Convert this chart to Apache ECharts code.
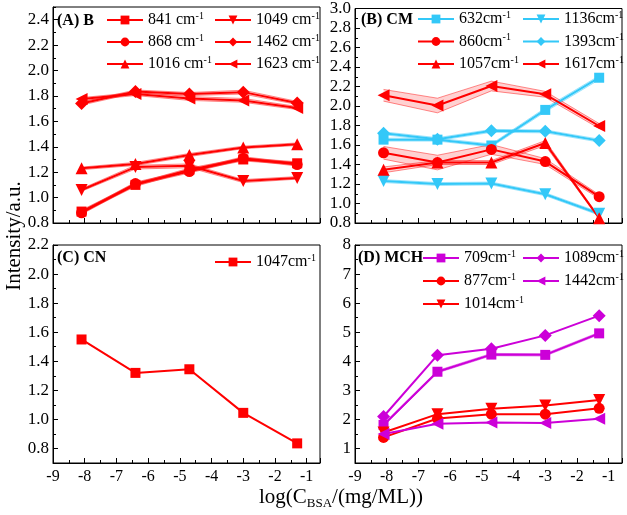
<!DOCTYPE html>
<html><head><meta charset="utf-8">
<script src="https://cdn.jsdelivr.net/npm/echarts@6/dist/echarts.min.js"></script>
<style>html,body{margin:0;padding:0;background:#fff}#c{width:627px;height:515px}</style>
</head><body><div id="c"></div>
<script>
// ---- data ----
const xVals = [-8.1, -6.4, -4.7, -3.0, -1.3];
const xTickLabels = [-9, -8, -7, -6, -5, -4, -3, -2, -1];

// Panel A (B)
const a841  = [0.89, 1.10, 1.22, 1.30, 1.27];
const a868  = [0.88, 1.11, 1.205, 1.31, 1.26];
const a1016 = [1.23, 1.265, 1.335, 1.395, 1.42];
const a1049 = [1.06, 1.24, 1.25, 1.13, 1.155];
const a1462 = [1.74, 1.835, 1.815, 1.83, 1.745];
const a1623 = [1.775, 1.815, 1.78, 1.765, 1.705];
const a841Err  = [0.012, 0.012, 0.012, 0.012, 0.012];
const a868Err  = [0.012, 0.012, 0.012, 0.012, 0.012];
const a1016Err = [0.01, 0.012, 0.012, 0.01, 0.01];
const a1049Err = [0.01, 0.015, 0.015, 0.012, 0.01];
const a1462Err = [0.012, 0.012, 0.012, 0.015, 0.012];
const a1623Err = [0.012, 0.012, 0.015, 0.015, 0.012];

// Panel B (CM)
const b632  = [1.655, 1.655, 1.595, 1.96, 2.29];
const b860  = [1.52, 1.42, 1.555, 1.43, 1.07];
const b1057 = [1.345, 1.42, 1.42, 1.62, 0.85];
const b1136 = [1.23, 1.20, 1.205, 1.095, 0.895];
const b1393 = [1.72, 1.66, 1.745, 1.74, 1.645];
const b1617 = [2.11, 2.005, 2.205, 2.12, 1.795];
const b632Err  = [0.015, 0.015, 0.015, 0.02, 0.02];
const b860Err  = [0.065, 0.075, 0.05, 0.03, 0.02];
const b1057Err = [0.03, 0.02, 0.02, 0.025, 0.01];
const b1136Err = [0.015, 0.015, 0.015, 0.015, 0.015];
const b1393Err = [0.015, 0.015, 0.015, 0.015, 0.015];
const b1617Err = [0.06, 0.075, 0.05, 0.03, 0.025];

// Panel C (CN)
const c1047 = [1.55, 1.32, 1.345, 1.045, 0.835];

// Panel D (MCH)
const d709  = [1.81, 3.64, 4.23, 4.22, 4.96];
const d877  = [1.38, 2.03, 2.18, 2.18, 2.38];
const d1014 = [1.55, 2.18, 2.37, 2.48, 2.67];
const d1089 = [2.10, 4.21, 4.43, 4.89, 5.57];
const d1442 = [1.50, 1.85, 1.89, 1.88, 2.02];
const d709Err  = [0.04, 0.04, 0.04, 0.04, 0.04];

// tick labels
const yTicksA = [0.8, 1.0, 1.2, 1.4, 1.6, 1.8, 2.0, 2.2, 2.4];
const yTicksB = [0.8, 1.0, 1.2, 1.4, 1.6, 1.8, 2.0, 2.2, 2.4, 2.6, 2.8, 3.0];
const yTicksC = [0.8, 1.0, 1.2, 1.4, 1.6, 1.8, 2.0, 2.2];
const yTicksD = [1, 2, 3, 4, 5, 6, 7, 8];

// ---- styles ----
const RED = '#FF0000', CYAN = '#33C8F8', MAG = '#CC00D8';
const FONT = 'Liberation Serif';
const grids = [
  {left: 53, top: 7, width: 267, height: 216},
  {left: 355, top: 7, width: 267, height: 216},
  {left: 53, top: 245, width: 267, height: 218},
  {left: 355, top: 245, width: 267, height: 218}
];

function xs(v) { return xVals.map((x, i) => [x, v[i]]); }

const SYM = {
  sq: {symbol: 'rect', symbolSize: 10, symbolRotate: 0},
  ci: {symbol: 'circle', symbolSize: 11, symbolRotate: 0},
  up: {symbol: 'triangle', symbolSize: 12, symbolRotate: 0},
  dn: {symbol: 'triangle', symbolSize: 12, symbolRotate: 180},
  di: {symbol: 'diamond', symbolSize: 13, symbolRotate: 0},
  lf: {symbol: 'triangle', symbolSize: 12, symbolRotate: 90}
};

function line(name, vals, color, sym, gi) {
  return Object.assign({
    type: 'line', name: name, xAxisIndex: gi, yAxisIndex: gi,
    data: xs(vals), z: 3,
    lineStyle: {color: color, width: 2},
    itemStyle: {color: color},
    showAllSymbol: true, animation: false
  }, SYM[sym]);
}

function rgba(hex, a) {
  const n = parseInt(hex.slice(1), 16);
  return 'rgba(' + ((n >> 16) & 255) + ',' + ((n >> 8) & 255) + ',' + (n & 255) + ',' + a + ')';
}

function band(vals, errs, color, gi) {
  return {
    type: 'custom', xAxisIndex: gi, yAxisIndex: gi, z: 1, silent: true, animation: false,
    data: xVals.map((x, i) => [x, vals[i] - errs[i], vals[i] + errs[i]]),
    encode: {x: 0, y: [1, 2]},
    renderItem: function (params, api) {
      if (params.dataIndex !== 0) return null;
      const hi = [], lo = [];
      for (let i = 0; i < xVals.length; i++) {
        hi.push(api.coord([xVals[i], vals[i] + errs[i]]));
        lo.push(api.coord([xVals[i], vals[i] - errs[i]]));
      }
      return {type: 'group', children: [
        {type: 'polygon', shape: {points: hi.concat(lo.slice().reverse())}, style: {fill: rgba(color, 0.18), stroke: null}},
        {type: 'polyline', shape: {points: hi}, style: {fill: null, stroke: rgba(color, 0.45), lineWidth: 1}},
        {type: 'polyline', shape: {points: lo}, style: {fill: null, stroke: rgba(color, 0.45), lineWidth: 1}}
      ]};
    }
  };
}

const series = [
  band(a841, a841Err, RED, 0), band(a868, a868Err, RED, 0), band(a1016, a1016Err, RED, 0),
  band(a1049, a1049Err, RED, 0), band(a1462, a1462Err, RED, 0), band(a1623, a1623Err, RED, 0),
  band(b632, b632Err, CYAN, 1), band(b1136, b1136Err, CYAN, 1), band(b1393, b1393Err, CYAN, 1),
  band(b860, b860Err, RED, 1), band(b1057, b1057Err, RED, 1), band(b1617, b1617Err, RED, 1),
  band(d709, d709Err, MAG, 3),
  line('841 cm', a841, RED, 'sq', 0),
  line('868 cm', a868, RED, 'ci', 0),
  line('1016 cm', a1016, RED, 'up', 0),
  line('1049 cm', a1049, RED, 'dn', 0),
  line('1462 cm', a1462, RED, 'di', 0),
  line('1623 cm', a1623, RED, 'lf', 0),
  line('632cm', b632, CYAN, 'sq', 1),
  line('1136cm', b1136, CYAN, 'dn', 1),
  line('1393cm', b1393, CYAN, 'di', 1),
  line('860cm', b860, RED, 'ci', 1),
  line('1057cm', b1057, RED, 'up', 1),
  line('1617cm', b1617, RED, 'lf', 1),
  line('1047cm', c1047, RED, 'sq', 2),
  line('709cm', d709, MAG, 'sq', 3),
  line('877cm', d877, RED, 'ci', 3),
  line('1014cm', d1014, RED, 'dn', 3),
  line('1089cm', d1089, MAG, 'di', 3),
  line('1442cm', d1442, MAG, 'lf', 3)
];

const xAxes = grids.map((g, i) => ({
  type: 'value', gridIndex: i, min: -9, max: -0.58, interval: 1,
  axisLine: {show: true, lineStyle: {color: '#000', width: 1}},
  axisTick: {show: true, inside: true, length: 5, lineStyle: {color: '#000'}},
  minorTick: {show: true, splitNumber: 2, length: 3, lineStyle: {color: '#000'}},
  splitLine: {show: false},
  axisLabel: {show: i >= 2, showMaxLabel: false, margin: 6, color: '#000', fontFamily: FONT, fontSize: 16,
    formatter: v => (xTickLabels.indexOf(v) >= 0 ? String(v) : '')}
}));

function yMain(gi, min, max, ticks, dec) {
  return {
    type: 'value', gridIndex: gi, min: min, max: max, position: 'left',
    axisLine: {show: true, lineStyle: {color: '#000', width: 1}},
    axisTick: {show: true, inside: true, length: 5, customValues: ticks, lineStyle: {color: '#000'}},
    splitLine: {show: false},
    axisLabel: {show: true, customValues: ticks, margin: 4, color: '#000', fontFamily: FONT, fontSize: 17,
      formatter: v => Number(v).toFixed(dec)}
  };
}
function yMinor(gi, min, max, step) {
  return {
    type: 'value', gridIndex: gi, min: min, max: max, interval: step, position: 'left', offset: 0,
    axisLine: {show: false}, axisLabel: {show: false}, splitLine: {show: false},
    axisTick: {show: true, inside: true, length: 3, lineStyle: {color: '#000'}}
  };
}
const yAxes = [
  yMain(0, 0.8, 2.5, yTicksA, 1), yMain(1, 0.8, 3.0, yTicksB, 1),
  yMain(2, 0.7, 2.2, yTicksC, 1), yMain(3, 0.5, 8, yTicksD, 0),
  yMinor(0, 0.8, 2.5, 0.1), yMinor(1, 0.8, 3.0, 0.1),
  yMinor(2, 0.7, 2.2, 0.1), yMinor(3, 0.5, 8, 0.5)
];

function legend(left, top, names, gap) {
  return {
    orient: 'vertical', left: left, top: top, data: names, padding: 0,
    itemWidth: 36, itemHeight: 11, itemGap: gap, selectedMode: false,
    formatter: n => '{n|' + n + '}{s|-1}',
    textStyle: {color: '#000', fontFamily: FONT, fontSize: 16,
      rich: {n: {fontSize: 16, lineHeight: 18, fontFamily: FONT, color: '#000'},
             s: {fontSize: 10, lineHeight: 10, verticalAlign: 'top', fontFamily: FONT, color: '#000'}}}
  };
}
const legends = [
  legend(106, 11, ['841 cm', '868 cm', '1016 cm'], 5),
  legend(214, 11, ['1049 cm', '1462 cm', '1623 cm'], 5),
  legend(417, 10, ['632cm', '860cm', '1057cm'], 5.5),
  legend(522, 10, ['1136cm', '1393cm', '1617cm'], 5.5),
  legend(214, 253, ['1047cm'], 5),
  legend(422, 249, ['709cm', '877cm', '1014cm'], 6),
  legend(522, 249, ['1089cm', '1442cm'], 6)
];

function ptxt(x, y, t) {
  return {type: 'text', left: x, top: y, z: 10,
    style: {text: t, fontFamily: FONT, fontWeight: 'bold', fontSize: 16, fill: '#000'}};
}

const chart = echarts.init(document.getElementById('c'), null, {renderer: 'canvas'});
chart.setOption({
  backgroundColor: '#fff',
  animation: false,
  grid: grids.map(g => Object.assign({show: true, borderColor: '#000', borderWidth: 1, backgroundColor: 'transparent'}, g)),
  xAxis: xAxes,
  yAxis: yAxes,
  legend: legends,
  series: series,
  graphic: [
    ptxt(57, 13, '(A) B'),
    ptxt(361, 12, '(B) CM'),
    ptxt(57, 250, '(C) CN'),
    ptxt(358, 250, '(D) MCH'),
    {type: 'text', x: 14, y: 236, rotation: Math.PI / 2, z: 10,
      style: {text: 'Intensity/a.u.', fontFamily: FONT, fontSize: 21, fill: '#000', align: 'center', verticalAlign: 'middle'}},
    {type: 'text', x: 341, y: 497, z: 10,
      style: {text: '{a|log(C}{b|BSA}{a|/(mg/ML))}', align: 'center', verticalAlign: 'middle',
        rich: {a: {fontSize: 21, lineHeight: 26, fontFamily: FONT, fill: '#000', color: '#000'},
               b: {fontSize: 13, lineHeight: 14, verticalAlign: 'bottom', fontFamily: FONT, fill: '#000', color: '#000'}}}}
  ]
});
</script>
</body></html>
